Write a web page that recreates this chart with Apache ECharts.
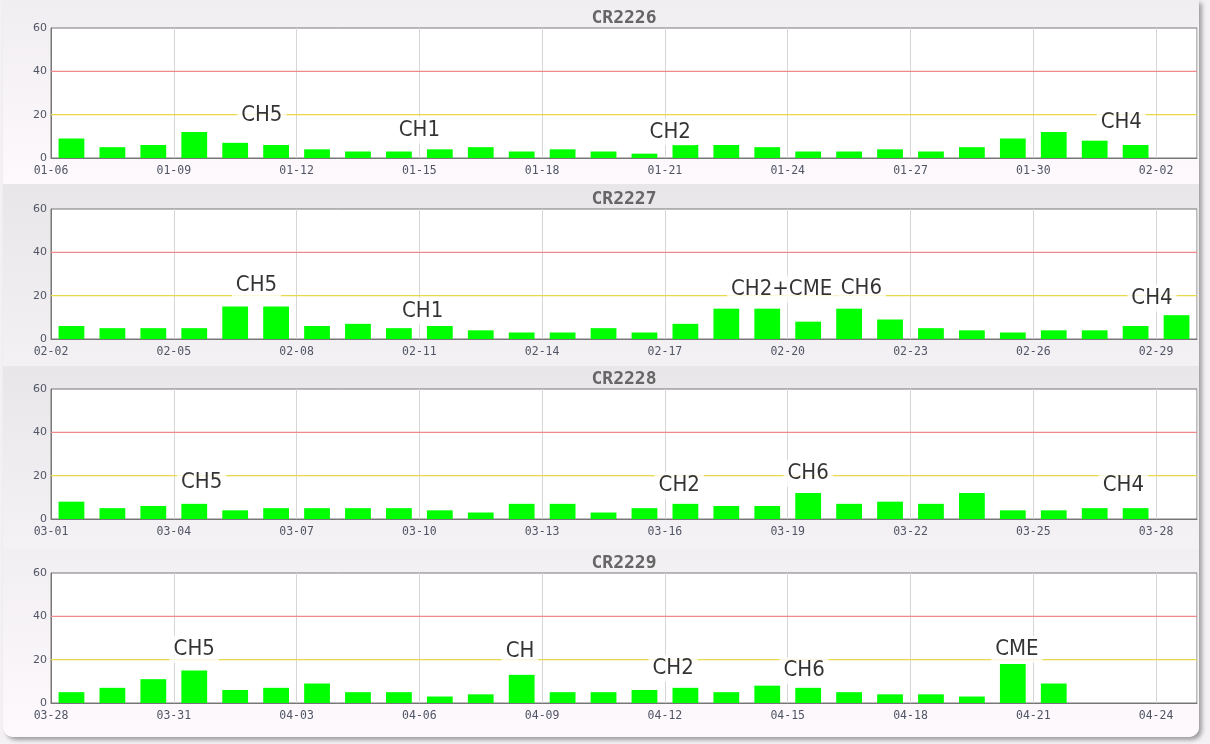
<!DOCTYPE html>
<html><head><meta charset="utf-8">
<script src="https://cdn.jsdelivr.net/npm/echarts@6/dist/echarts.min.js"></script>
<style>
html,body{margin:0;padding:0;width:1210px;height:744px;overflow:hidden;background:#f3f1f3;}
#frame{position:absolute;left:3px;top:0;width:1196px;height:737px;border-radius:0 0 10px 10px;box-shadow:3px 3px 4px rgba(0,0,0,0.35);overflow:hidden;background:#fcf8fc;}
.p{position:absolute;left:0;width:100%;}
#chart{position:absolute;left:0;top:0;width:1210px;height:744px;}
</style></head>
<body>
<div id="frame">
 <div class="p" style="top:0;height:184px;background:linear-gradient(#f1eef1,#fdf9fd)"></div>
 <div class="p" style="top:184px;height:182px;background:linear-gradient(#e8e6e8,#f4f1f4)"></div>
 <div class="p" style="top:366px;height:183px;background:linear-gradient(#e9e6e9,#f5f2f5)"></div>
 <div class="p" style="top:549px;height:188px;background:linear-gradient(#f2eff2,#fdf9fd)"></div>
</div>
<div id="chart"></div>
<script>
const titles = ['CR2226', 'CR2227', 'CR2228', 'CR2229'];

const dates1 = ['01-06','01-07','01-08','01-09','01-10','01-11','01-12','01-13','01-14','01-15','01-16','01-17','01-18','01-19','01-20','01-21','01-22','01-23','01-24','01-25','01-26','01-27','01-28','01-29','01-30','01-31','02-01','02-02'];
const dates2 = ['02-02','02-03','02-04','02-05','02-06','02-07','02-08','02-09','02-10','02-11','02-12','02-13','02-14','02-15','02-16','02-17','02-18','02-19','02-20','02-21','02-22','02-23','02-24','02-25','02-26','02-27','02-28','02-29'];
const dates3 = ['03-01','03-02','03-03','03-04','03-05','03-06','03-07','03-08','03-09','03-10','03-11','03-12','03-13','03-14','03-15','03-16','03-17','03-18','03-19','03-20','03-21','03-22','03-23','03-24','03-25','03-26','03-27','03-28'];
const dates4 = ['03-28','03-29','03-30','03-31','04-01','04-02','04-03','04-04','04-05','04-06','04-07','04-08','04-09','04-10','04-11','04-12','04-13','04-14','04-15','04-16','04-17','04-18','04-19','04-20','04-21','04-22','04-23','04-24'];

const values1 = [9,5,6,12,7,6,4,3,3,4,5,3,4,3,2,6,6,5,3,3,4,3,5,9,12,8,6,null];
const values2 = [6,5,5,5,15,15,6,7,5,6,4,3,3,5,3,7,14,14,8,14,9,5,4,3,4,4,6,11];
const values3 = [8,5,6,7,4,5,5,5,5,4,3,7,7,3,5,7,6,6,12,7,8,7,12,4,4,5,5,null];
const values4 = [5,7,11,15,6,7,9,5,5,3,4,13,5,5,6,7,5,8,7,5,4,4,3,18,9,null,null,null];

// annotation labels: text, position in days from first tick, height in axis units
const notes1 = ['CH5','CH1','CH2','CH4'];
const notesX1 = [5.15, 9.0, 15.13, 26.15];
const notesY1 = [19.8, 12.9, 12.1, 16.3];
const notes2 = ['CH5','CH1','CH2+CME','CH6','CH4'];
const notesX2 = [5.02, 9.08, 17.85, 19.8, 26.9];
const notesY2 = [24.9, 12.9, 23.1, 23.5, 18.9];
const notes3 = ['CH5','CH2','CH6','CH4'];
const notesX3 = [3.68, 15.35, 18.5, 26.2];
const notesY3 = [16.9, 15.4, 21.1, 15.4];
const notes4 = ['CH5','CH','CH2','CH6','CME'];
const notesX4 = [3.5, 11.46, 15.2, 18.4, 23.6];
const notesY4 = [24.8, 23.7, 16.0, 14.9, 24.8];

const yTicks = [0, 20, 40, 60];
const levels = [20, 40];
const levelColors = ['#e8d84a', '#ef8a8a'];

const panels = [
  {title: titles[0], dates: dates1, values: values1, notes: notes1, nx: notesX1, ny: notesY1},
  {title: titles[1], dates: dates2, values: values2, notes: notes2, nx: notesX2, ny: notesY2},
  {title: titles[2], dates: dates3, values: values3, notes: notes3, nx: notesX3, ny: notesY3},
  {title: titles[3], dates: dates4, values: values4, notes: notes4, nx: notesX4, ny: notesY4}
];
const gridTops = [28, 209, 389, 573];

const option = {
  animation: false,
  title: [], grid: [], xAxis: [], yAxis: [], series: []
};

panels.forEach((p, i) => {
  const top = gridTops[i];
  const n = p.dates.length;
  option.title.push({
    text: p.title, left: 624, top: top - 20, textAlign: 'center', padding: 0,
    textStyle: {fontFamily: 'DejaVu Sans Mono', fontWeight: 'bold', fontSize: 18, lineHeight: 20, color: '#666'}
  });
  option.grid.push({
    left: 51, top: top, width: 1146, height: 130,
    show: true, borderColor: '#777', borderWidth: 1, backgroundColor: '#fff'
  });
  option.xAxis.push({
    type: 'category', gridIndex: i, data: p.dates, boundaryGap: true,
    axisLine: {show: true, lineStyle: {color: '#777'}},
    axisTick: {show: false}, axisLabel: {show: false}, splitLine: {show: false}, splitArea: {show: false}
  });
  option.xAxis.push({
    type: 'value', gridIndex: i, min: 0, max: n, interval: 3, position: 'bottom',
    axisLine: {show: false}, axisTick: {show: false}, splitArea: {show: false},
    axisLabel: {
      formatter: v => p.dates[v] || '', fontFamily: 'DejaVu Sans Mono', fontSize: 11.5,
      color: '#505565', margin: 7
    },
    splitLine: {show: true, lineStyle: {color: '#d6d6d6', width: 1}}
  });
  option.yAxis.push({
    type: 'value', gridIndex: i, min: yTicks[0], max: yTicks[yTicks.length - 1], interval: 20,
    axisLine: {show: true, lineStyle: {color: '#777'}},
    axisTick: {show: false}, splitArea: {show: false},
    axisLabel: {fontFamily: 'DejaVu Sans', fontSize: 11, color: '#505565', margin: 4},
    splitLine: {show: false}
  });
  // threshold lines, one series per level
  levels.forEach((lv, k) => {
    option.series.push({
      type: 'line', xAxisIndex: 2 * i + 1, yAxisIndex: i,
      data: [[0, lv], [n, lv]],
      showSymbol: false, symbol: 'none', silent: true, z: 2,
      lineStyle: {color: levelColors[k], width: 1.2, type: 'solid'},
      itemStyle: {color: levelColors[k]}
    });
  });
  option.series.push({
    type: 'bar', xAxisIndex: 2 * i, yAxisIndex: i, data: p.values,
    barWidth: '63%', itemStyle: {color: '#00ff00'}, silent: true, z: 3
  });
  option.series.push({
    type: 'scatter', xAxisIndex: 2 * i + 1, yAxisIndex: i,
    data: p.notes.map((nm, k) => ({name: nm, value: [p.nx[k], p.ny[k]]})),
    symbolSize: 1, itemStyle: {color: 'rgba(0,0,0,0)'}, silent: true, z: 10,
    label: {
      show: true, position: 'inside', formatter: '{b}', color: '#000',
      fontFamily: 'DejaVu Sans Condensed', fontSize: 22,
      backgroundColor: '#fff', padding: [3, 4, 2, 4]
    }
  });
});

const chart = echarts.init(document.getElementById('chart'), null, {renderer: 'canvas'});
chart.setOption(option);
</script>
</body></html>
